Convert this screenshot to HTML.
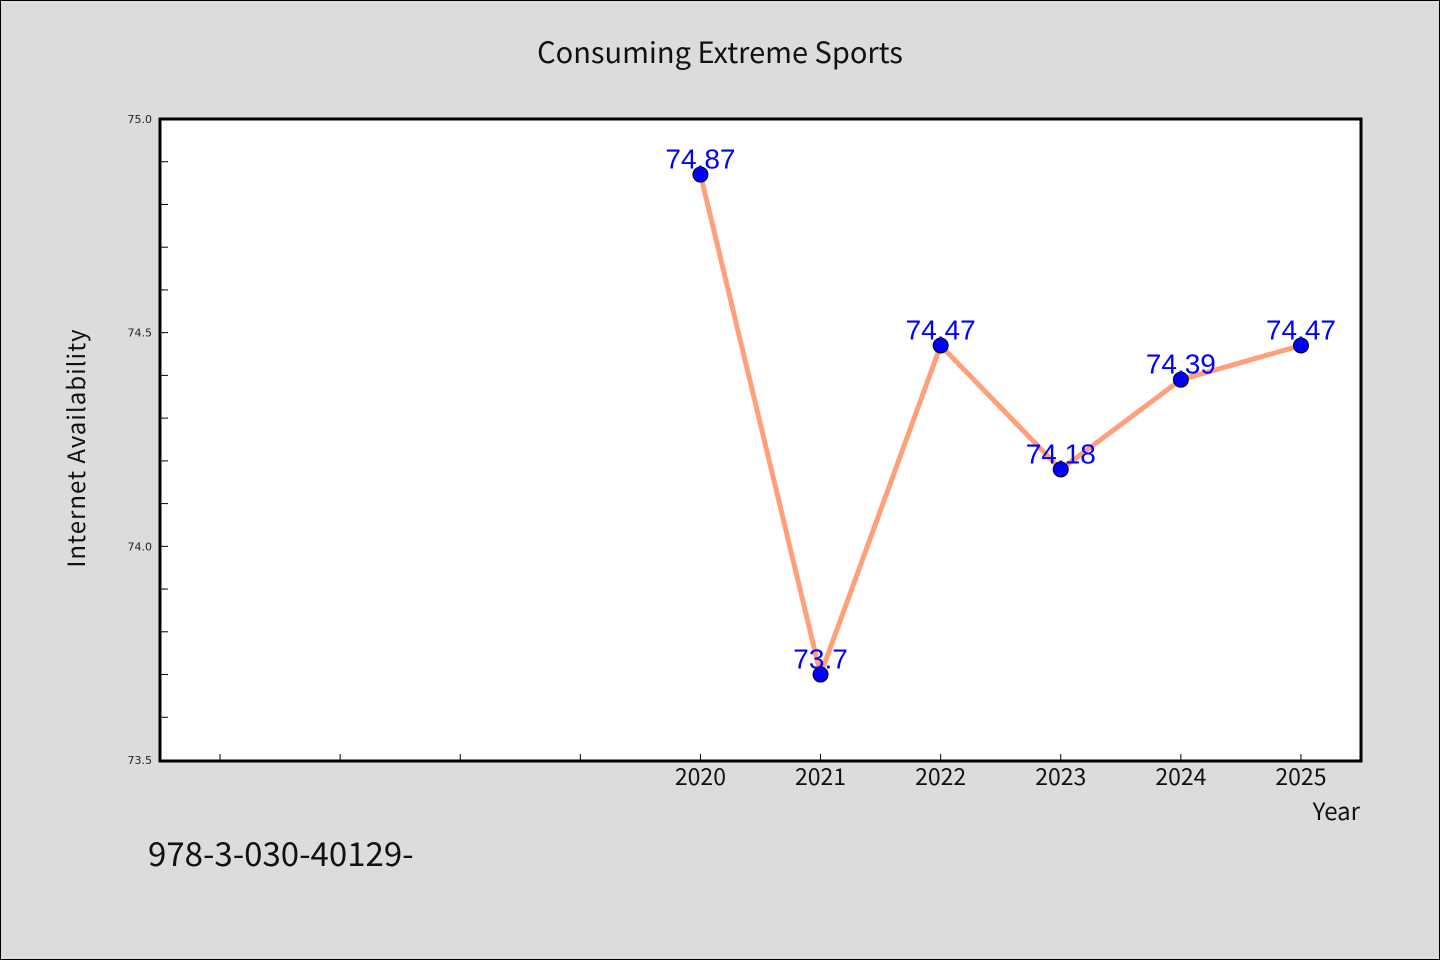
<!DOCTYPE html>
<html><head><meta charset="utf-8"><style>
html,body{margin:0;padding:0;background:#dcdcdc;}
svg{display:block;}
.cjk{font-family:"WenQuanYi Zen Hei","Noto Sans CJK SC","Liberation Sans",sans-serif;}
</style></head><body>
<svg id="chart" width="1440" height="960" xmlns="http://www.w3.org/2000/svg">
<rect x="0.5" y="0.5" width="1439" height="959" fill="#dcdcdc" stroke="#000" stroke-width="1"/>
<text x="720" y="63" text-anchor="middle" font-size="29" fill="#111" class="cjk">Consuming Extreme Sports</text>
<rect x="160" y="119" width="1201" height="642" fill="#fff"/>
<g id="ticks"></g>
<g id="series"></g>
<rect x="160" y="119" width="1201" height="642" fill="none" stroke="#000" stroke-width="3"/>
<text transform="translate(85,448) rotate(-90)" text-anchor="middle" font-size="24" fill="#111" class="cjk" letter-spacing="1">Internet Availability</text>
<text x="1360" y="820" text-anchor="end" font-size="24" fill="#111" class="cjk">Year</text>
<text x="148" y="866" font-size="33" fill="#111" class="cjk">978-3-030-40129-</text>
</svg>
<script>
const years = [2020, 2021, 2022, 2023, 2024, 2025];
const values = [74.87, 73.7, 74.47, 74.18, 74.39, 74.47];
const yTickLabels = ["73.5", "74.0", "74.5", "75.0"];
const xMinorYears = [2016, 2017, 2018, 2019];

const NS = "http://www.w3.org/2000/svg";
const X0 = 160, X1 = 1361, Y0 = 760, Y1 = 119;
const xMin = 2015.5, xMax = 2025.5, yMin = 73.5, yMax = 75.0;
function xs(v){ return X0 + (v - xMin) / (xMax - xMin) * (X1 - X0); }
function ys(v){ return Y0 - (v - yMin) / (yMax - yMin) * (Y0 - Y1); }
function mk(tag, attrs, parent){ const e = document.createElementNS(NS, tag); for (const k in attrs) e.setAttribute(k, attrs[k]); parent.appendChild(e); return e; }

const ticks = document.getElementById('ticks');
// y minor ticks
for (let i = 1; i < 15; i++) {
  const v = yMin + i * 0.1;
  const t = mk('line', {x1: X0, x2: X0 + 8, y1: ys(v), y2: ys(v), stroke: '#000', 'stroke-width': 1}, ticks);
  
  
}
yTickLabels.forEach(s => {
  const t = mk('text', {x: X0 - 8, y: ys(parseFloat(s)) + 4, 'text-anchor': 'end', 'font-size': 11, fill: '#222', 'font-family': '"DejaVu Sans", sans-serif'}, ticks);
  t.textContent = s;
  
  
});
xMinorYears.forEach(y => {
  const t = mk('line', {x1: xs(y), x2: xs(y), y1: Y0 - 6, y2: Y0, stroke: '#000', 'stroke-width': 1}, ticks);
  
  
});
years.forEach(y => {
  const t = mk('line', {x1: xs(y), x2: xs(y), y1: Y0 - 6, y2: Y0, stroke: '#000', 'stroke-width': 1}, ticks);
  
  
  const l = mk('text', {x: xs(y), y: 785, 'text-anchor': 'middle', 'font-size': 23, fill: '#111', class: 'cjk'}, ticks);
  l.textContent = String(y);
  
  
});

const series = document.getElementById('series');
const pts = years.map((y, i) => xs(y) + ',' + ys(values[i])).join(' ');
const line = mk('polyline', {points: pts, fill: 'none', stroke: '#ffa07a', 'stroke-width': 5, 'stroke-linejoin': 'round'}, series);


years.forEach((y, i) => {
  const c = mk('circle', {cx: xs(y), cy: ys(values[i]), r: 7.5, fill: '#0000ff', stroke: '#000', 'stroke-width': 1}, series);
  
  
  const t = mk('text', {x: xs(y), y: ys(values[i]) - 6, 'text-anchor': 'middle', 'font-size': 28, fill: '#0000ff', 'font-family': '"Liberation Sans", sans-serif'}, series);
  t.textContent = String(values[i]);
  
  
});
</script>
</body></html>
